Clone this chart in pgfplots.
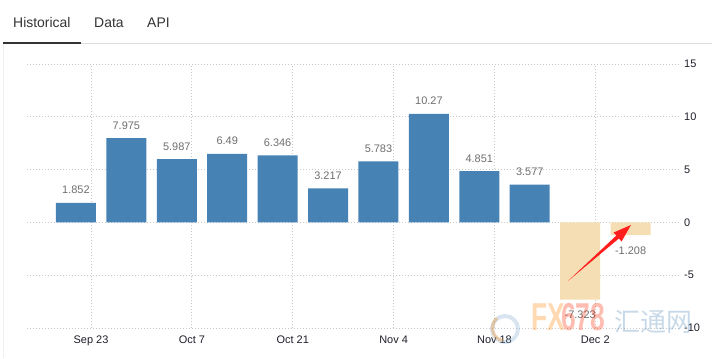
\documentclass[border=0pt]{standalone}
\usepackage{fontspec}
\setmainfont{Liberation Sans}
\newfontfamily\cjk{Noto Sans CJK SC}
\usepackage{pgfplots}
\pgfplotsset{compat=1.18}
\usepackage{pgfplotstable}
\definecolor{barblue}{HTML}{4682B4}
\definecolor{barorange}{HTML}{F5DEB3}
\definecolor{gridc}{HTML}{C8C8C8}
\definecolor{labc}{HTML}{6E6E6E}
\definecolor{tickc}{HTML}{1E1E2A}
\definecolor{tabc}{HTML}{333333}
\definecolor{arrowred}{HTML}{FF1E1E}

\pgfplotstableread{
x y lab
0 1.852 1.852
1 7.975 7.975
2 5.987 5.987
3 6.49 6.49
4 6.346 6.346
5 3.217 3.217
6 5.783 5.783
7 10.27 10.27
8 4.851 4.851
9 3.577 3.577
}\bluedata
\pgfplotstableread{
x y lab
10 -7.323 -7.323
11 -1.208 -1.208
}\orangedata

\begin{document}
\begin{tikzpicture}[x=1bp,y=1bp]
\path[use as bounding box] (0,0) rectangle (712,358);
% tabs
\node[anchor=base west, inner sep=0, text=tabc, font=\fontsize{14}{16}\selectfont] at (13,331) {Historical};
\node[anchor=base west, inner sep=0, text=tabc, font=\fontsize{14}{16}\selectfont] at (94,331) {Data};
\node[anchor=base west, inner sep=0, text=tabc, font=\fontsize{14}{16}\selectfont] at (147,331) {API};
\draw[color=black!13, line width=1bp] (3,315) -- (712,315);
\fill[tabc] (3,314) rectangle (81,316.5);
\draw[color=black!6, line width=0.8bp] (3.5,0) -- (3.5,314);

\begin{axis}[
  at={(27bp,30bp)}, anchor=south west,
  width=653bp, height=264bp, scale only axis,
  xmin=-0.97, xmax=11.98, ymin=-10, ymax=15,
  axis line style={draw=none}, tick style={draw=none},
  ytick={-10,-5,0,5,10,15},
  yticklabels={-10,-5,0,5,10,15},
  yticklabel pos=right,
  yticklabel style={anchor=west, inner sep=0pt, xshift=4bp, text=tickc, font=\fontsize{11}{13}\selectfont},
  xtick={0.3,2.3,4.3,6.3,8.3,10.3},
  xticklabels={Sep 23,Oct 7,Oct 21,Nov 4,Nov 18,Dec 2},
  xticklabel style={yshift=-4.5bp, text=tickc, font=\fontsize{11}{13}\selectfont},
  grid=major,
  major grid style={color=gridc, line width=0.8bp, dash pattern=on 1bp off 2bp},
  clip=false,
  point meta=explicit symbolic,
]
\addplot[ybar, bar width=40bp, bar shift=0pt, fill=barblue, draw=none,
  nodes near coords, every node near coord/.append style={anchor=south, text=labc, font=\fontsize{11}{13}\selectfont, yshift=5.5bp}]
  table[x=x, y=y, meta=lab] {\bluedata};
\addplot[ybar, bar width=40bp, bar shift=0pt, fill=barorange, draw=none,
  nodes near coords, every node near coord/.append style={anchor=north, text=labc, font=\fontsize{11}{13}\selectfont, yshift=-8bp}]
  table[x=x, y=y, meta=lab] {\orangedata};
\end{axis}

% watermark
\begin{scope}[opacity=0.3]
\draw[color=barblue!70, line width=4bp] (505,29) circle (13);
\draw[color=orange, line width=3bp] (497,40) arc (130:260:13);
\node[anchor=base west, inner sep=0, text=orange, font=\fontsize{39}{40}\bfseries\selectfont, xscale=0.68] at (531,28) {FX};
\node[anchor=base west, inner sep=0, text=red!70!orange, font=\fontsize{39}{40}\bfseries\selectfont, xscale=0.68] at (561,28) {678};
\node[anchor=base west, inner sep=0, text=barblue, font=\cjk\fontsize{26}{28}\selectfont] at (614,27) {汇通网};
\end{scope}

% arrow
\fill[arrowred] (568,77) -- (618.9,119.5) -- (621.6,116.5) -- (631,133) -- (613.6,125.5) -- (616.3,122.5) -- cycle;
\end{tikzpicture}
\end{document}
